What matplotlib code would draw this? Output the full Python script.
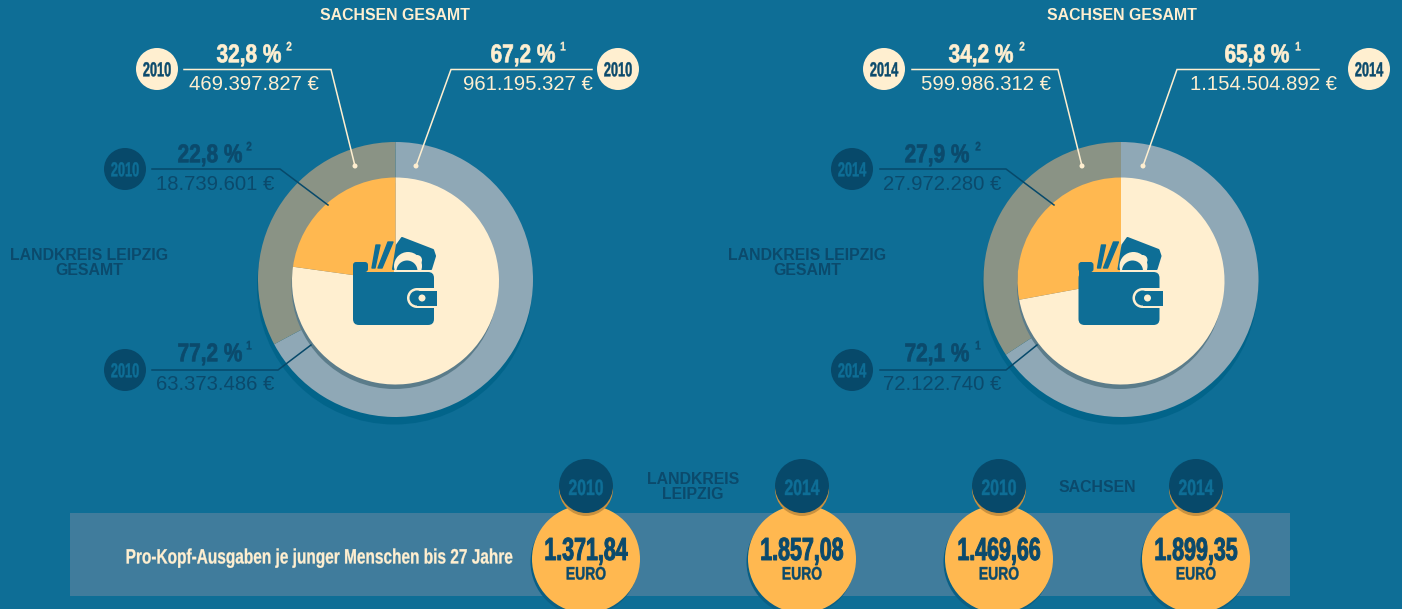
"""
Two donut charts (Sachsen / Landkreis Leipzig) plus the per-capita band below.
Output: out.png
"""
import matplotlib
matplotlib.use("Agg")
import matplotlib.pyplot as plt
import matplotlib.patheffects as pe
from matplotlib.patches import Circle, FancyBboxPatch, Polygon, Rectangle
from matplotlib.transforms import Affine2D, Bbox

# ── Data ───────────────────────────────────────────────────────────
YEARS = ["2010", "2014"]
SACHSEN_PCT = [[67.2, 32.8], [65.8, 34.2]]
LEIPZIG_PCT = [[77.2, 22.8], [72.1, 27.9]]
SACHSEN_EUR = [["961.195.327 €", "469.397.827 €"], ["1.154.504.892 €", "599.986.312 €"]]
LEIPZIG_EUR = [["63.373.486 €", "18.739.601 €"], ["72.122.740 €", "27.972.280 €"]]
PER_HEAD_YEARS = ["2010", "2014", "2010", "2014"]
PER_HEAD = ["1.371,84", "1.857,08", "1.469,66", "1.899,35"]

# ── Style Settings ─────────────────────────────────────────────────
BG = "#0E6E96"
CREAM = "#FFEFD0"
ORANGE = "#FFB850"
RING_BLUE = "#8FA8B6"
RING_GREY = "#8A9385"
DARK = "#07496A"
DARK_TEXT = "#0B4A6C"
BAND = "#407C9C"
SHADOW = "#02648A"
INNER_SHADOW = "#5B7C8A"
SANS = ["Liberation Sans", "DejaVu Sans"]

fig = plt.figure(figsize=(14.02, 6.09), dpi=100)
fig.patch.set_facecolor(BG)
ax = fig.add_axes([0, 0, 1, 1])


class Squeeze(pe.AbstractPathEffect):
    """No condensed font is installed, so narrow the glyphs around the text centre."""

    def __init__(self, x, sx, width, color):
        super().__init__()
        self.x, self.sx, self.width, self.color = x, sx, width, color

    def draw_path(self, renderer, gc, tpath, affine, rgbFace):
        cx = ax.transData.transform((self.x, 0))[0]
        squeezed = affine + Affine2D().translate(-cx, 0).scale(self.sx, 1).translate(cx, 0)
        gc0 = renderer.new_gc()
        gc0.copy_properties(gc)
        gc0.set_linewidth(self.width)
        gc0.set_foreground(self.color)
        renderer.draw_path(gc0, tpath, squeezed, rgbFace)
        gc0.restore()


def heavy(x, y, s, size, sx, color, width=0.5):
    # y is the middle of the capitals, in pixels from the top
    t = ax.text(x, y + 0.36 * size * 100 / 72, s, family=SANS, weight="bold", fontsize=size,
                color=color, ha="center", va="baseline", zorder=12)
    t.set_path_effects([Squeeze(x, sx, width, color)])
    full_extent = t.get_window_extent

    def narrow_extent(renderer=None, dpi=None):
        b = full_extent(renderer, dpi)
        half = b.width * sx / 2
        mid = (b.x0 + b.x1) / 2
        return Bbox.from_extents(mid - half, b.y0, mid + half, b.y1)

    t.get_window_extent = narrow_extent
    return t


def plain_bold(x, y, s, color):
    ax.text(x, y, s, family=SANS, weight="bold", fontsize=11.4, color=color, ha="center",
            va="center", linespacing=1.05, zorder=12)


def badge(x, y, r, year, face, text_color):
    ax.add_patch(Circle((x, y), r, facecolor=face, edgecolor="none", zorder=10))
    heavy(x, y, year, 14.6, 0.63, text_color, width=0.3)


def callout(points, color, lw=1.1):
    xs, ys = zip(*points)
    ax.plot(xs, ys, color=color, lw=lw, zorder=9, solid_joinstyle="miter")


def label(px, py, pct, sup, sup_x, ex, ey, eur, color):
    heavy(px, py, f"{pct:.1f} %".replace(".", ","), 18.5, 0.81, color, width=0.5)
    heavy(sup_x, py - 7, sup, 9, 0.8, color, width=0.2)
    ax.text(ex, ey + 1.5, eur, family=SANS, fontsize=14.6, color=color, ha="center", va="center",
            zorder=12)


def wallet(dx):
    # icon is given relative to the left donut and shifted by dx
    note = [(393, 269), (397, 245), (402, 238), (433, 250), (435, 256), (431, 269)]
    ax.add_patch(Polygon([(x + dx, y) for x, y in note], closed=True, facecolor=BG,
                         edgecolor=BG, lw=1.5, joinstyle="round", zorder=6))
    ax.add_patch(Circle((408 + dx, 266), 14, facecolor=CREAM, edgecolor="none", zorder=6.1))
    ax.add_patch(Circle((417 + dx, 260), 5, facecolor=CREAM, edgecolor="none", zorder=6.1))
    ax.add_patch(Circle((407 + dx, 271), 10.5, facecolor=BG, edgecolor="none", zorder=6.3))
    ax.add_patch(Rectangle((394 + dx, 269.5), 40, 16, facecolor=CREAM, edgecolor="none", zorder=6.4))
    cards = [[(372, 268), (375, 268), (380, 245), (376, 245)],
             [(378, 268), (382, 268), (393, 242), (388, 242)]]
    for card in cards:
        ax.add_patch(Polygon([(x + dx, y) for x, y in card], closed=True, facecolor=BG,
                             edgecolor=BG, lw=1, joinstyle="round", zorder=6.5))
    ax.add_patch(FancyBboxPatch((356 + dx, 275), 75, 47, boxstyle="round,pad=3,rounding_size=6",
                                facecolor=BG, edgecolor="none", zorder=7))
    ax.add_patch(Rectangle((353 + dx, 268), 9, 12, facecolor=BG, edgecolor="none", zorder=7))
    ax.add_patch(FancyBboxPatch((355 + dx, 264), 11, 6, boxstyle="round,pad=2,rounding_size=3",
                                facecolor=BG, edgecolor="none", zorder=7))
    # clasp: cream outline, open to the right
    ax.add_patch(Circle((417 + dx, 298), 10, facecolor=CREAM, edgecolor="none", zorder=8))
    ax.add_patch(Rectangle((417 + dx, 288), 20, 20, facecolor=CREAM, edgecolor="none", zorder=8))
    ax.add_patch(Circle((417 + dx, 298), 7.5, facecolor=BG, edgecolor="none", zorder=8.1))
    ax.add_patch(Rectangle((417 + dx, 290.5), 20, 15, facecolor=BG, edgecolor="none", zorder=8.1))
    ax.add_patch(Circle((422 + dx, 298), 3.5, facecolor=CREAM, edgecolor="none", zorder=8.2))


# ── Donuts ─────────────────────────────────────────────────────────
CENTERS = [395.5, 1121]
for i, cx in enumerate(CENTERS):
    ax.add_patch(Circle((cx - 1, 287), 137.5, facecolor=SHADOW, edgecolor="none", zorder=1))
    # y axis is inverted below, so counterclock here reads clockwise from the top
    ax.pie(SACHSEN_PCT[i], colors=[RING_BLUE, RING_GREY], center=(cx, 279.5), radius=137.5,
           startangle=-90, counterclock=True, wedgeprops=dict(linewidth=0, zorder=2))
    ax.add_patch(Circle((cx - 1, 286), 103, facecolor=INNER_SHADOW, edgecolor="none", zorder=3))
    ax.pie(LEIPZIG_PCT[i], colors=[CREAM, ORANGE], center=(cx, 281), radius=103.5,
           startangle=-90, counterclock=True, wedgeprops=dict(linewidth=0, zorder=4))
    wallet(cx - 395.5)

ax.set_xlim(0, 1402)
ax.set_ylim(609, 0)
ax.set_aspect("auto")
ax.axis("off")

# ── Left chart labels ──────────────────────────────────────────────
plain_bold(395, 15.5, "SACHSEN GESAMT", CREAM)
plain_bold(89, 263, "LANDKREIS LEIPZIG\nGESAMT", DARK_TEXT)
badge(157, 69, 21, YEARS[0], CREAM, DARK_TEXT)
badge(618, 69, 21, YEARS[0], CREAM, DARK_TEXT)
badge(125, 169, 21, YEARS[0], DARK, BG)
badge(125, 370, 21, YEARS[0], DARK, BG)
callout([(184, 69.5), (331, 69.5), (355, 166)], CREAM)
callout([(592, 69.5), (451, 69.5), (416, 166)], CREAM)
callout([(152, 169), (280, 169), (328, 205)], DARK)
callout([(152, 370), (278, 370), (311, 345)], DARK)
for x in [355, 416]:
    ax.add_patch(Circle((x, 166), 2.5, facecolor=CREAM, edgecolor="none", zorder=9))
label(249, 53, SACHSEN_PCT[0][1], "2", 289, 254, 83, SACHSEN_EUR[0][1], CREAM)
label(523, 53, SACHSEN_PCT[0][0], "1", 563, 528, 83, SACHSEN_EUR[0][0], CREAM)
label(210, 153, LEIPZIG_PCT[0][1], "2", 249, 215, 183, LEIPZIG_EUR[0][1], DARK_TEXT)
label(210, 352, LEIPZIG_PCT[0][0], "1", 249, 215, 383, LEIPZIG_EUR[0][0], DARK_TEXT)

# ── Right chart labels ─────────────────────────────────────────────
plain_bold(1122, 15.5, "SACHSEN GESAMT", CREAM)
plain_bold(807, 263, "LANDKREIS LEIPZIG\nGESAMT", DARK_TEXT)
badge(884, 69, 21, YEARS[1], CREAM, DARK_TEXT)
badge(1369, 69, 21, YEARS[1], CREAM, DARK_TEXT)
badge(852, 169, 21, YEARS[1], DARK, BG)
badge(852, 370, 21, YEARS[1], DARK, BG)
callout([(912, 69.5), (1058, 69.5), (1082, 166)], CREAM)
callout([(1319, 69.5), (1177, 69.5), (1143, 166)], CREAM)
callout([(880, 169), (1006, 169), (1054, 205)], DARK)
callout([(880, 370), (1006, 370), (1037, 345)], DARK)
for x in [1082, 1143]:
    ax.add_patch(Circle((x, 166), 2.5, facecolor=CREAM, edgecolor="none", zorder=9))
label(981, 53, SACHSEN_PCT[1][1], "2", 1022, 986, 83, SACHSEN_EUR[1][1], CREAM)
label(1257, 53, SACHSEN_PCT[1][0], "1", 1298, 1263, 83, SACHSEN_EUR[1][0], CREAM)
label(937, 153, LEIPZIG_PCT[1][1], "2", 978, 942, 183, LEIPZIG_EUR[1][1], DARK_TEXT)
label(937, 352, LEIPZIG_PCT[1][0], "1", 978, 942, 383, LEIPZIG_EUR[1][0], DARK_TEXT)

# ── Bottom band ────────────────────────────────────────────────────
ax.add_patch(Rectangle((70, 513), 1220, 83, facecolor=BAND, edgecolor="none", zorder=1))
heavy(320, 556, "Pro-Kopf-Ausgaben je junger Menschen bis 27 Jahre", 15, 0.74, CREAM, width=0.2)
for x, year, value in zip([586, 802, 999, 1196], PER_HEAD_YEARS, PER_HEAD):
    ax.add_patch(Circle((x - 1.5, 562), 54, facecolor="#0A5F84", edgecolor="none", zorder=2))
    ax.add_patch(Circle((x, 559), 54, facecolor=ORANGE, edgecolor="none", zorder=3))
    ax.add_patch(Circle((x, 489), 27, facecolor="#C9913F", edgecolor="none", zorder=4))
    ax.add_patch(Circle((x, 486), 27, facecolor=DARK, edgecolor="none", zorder=10))
    heavy(x, 487, year, 16, 0.71, BG, width=0.3)
    heavy(x, 548.5, value, 23, 0.67, DARK_TEXT, width=0.7)
    heavy(x, 573, "EURO", 13, 0.77, DARK_TEXT, width=0.3)
plain_bold(693, 487, "LANDKREIS\nLEIPZIG", DARK_TEXT)
plain_bold(1097, 487, "SACHSEN", DARK_TEXT)

fig.savefig("out.png", dpi=100, facecolor=BG)
plt.close(fig)
